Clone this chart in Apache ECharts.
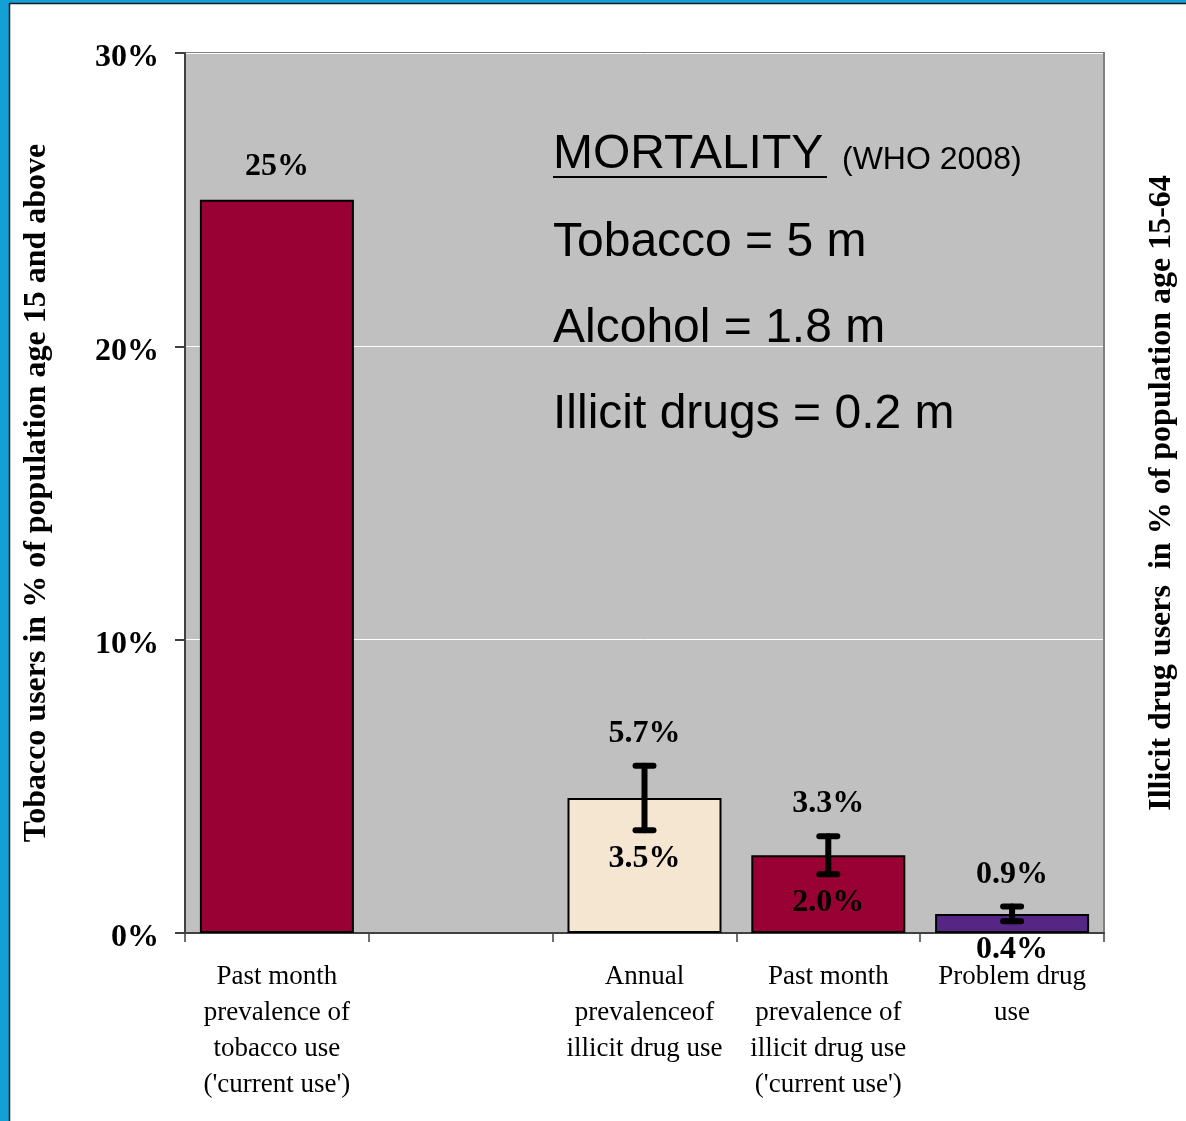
<!DOCTYPE html>
<html>
<head>
<meta charset="utf-8">
<script src="https://cdn.jsdelivr.net/npm/echarts@6/dist/echarts.min.js"></script>
<style>
  html, body { margin: 0; padding: 0; background: #ffffff; }
  #chart { width: 1186px; height: 1121px; }
</style>
</head>
<body>
<div id="chart"></div>
<script>
// Categories along the bottom axis (second slot is an empty spacer)
const categories = [
  "Past month\nprevalence of\ntobacco use\n('current use')",
  "",
  "Annual\nprevalenceof\nillicit drug use",
  "Past month\nprevalence of\nillicit drug use\n('current use')",
  "Problem drug\nuse"
];

// Tobacco users, % of population aged 15+
const tobaccoValues = [25, null, null, null, null];

// Illicit drug users, % of population aged 15-64 (bar = centre of the range)
const drugValues = [null, null, 4.6, 2.65, 0.65];
const drugLow = [null, null, 3.5, 2.0, 0.4];
const drugHigh = [null, null, 5.7, 3.3, 0.9];

// Left axis ticks (percent)
const yTicks = [0, 10, 20, 30];

// Mortality note
const mortalityTitle = 'MORTALITY';
const mortalitySource = '(WHO 2008)';
const mortalityLines = ['Tobacco = 5 m', 'Alcohol = 1.8 m', 'Illicit drugs = 0.2 m'];

const drugColors = ['#f5e6d2', '#990033', '#552683'];

const serif = '"Liberation Serif", "Times New Roman", serif';
const sans = '"Liberation Sans", Arial, sans-serif';

const chart = echarts.init(document.getElementById('chart'), null, { renderer: 'canvas' });

const drugBarData = drugValues.map((v, i) => {
  if (v == null) return null;
  const k = drugValues.slice(0, i + 1).filter(x => x != null).length - 1;
  return { value: v, itemStyle: { color: drugColors[k] } };
});

const rangeData = drugLow.map((lo, i) => lo == null ? null : [i, lo, drugHigh[i]]).filter(Boolean);

const mortalityGraphics = [
  {
    type: 'text', left: 553, top: 131, z: 10,
    style: { text: mortalityTitle, font: '48px ' + sans, fill: '#000' }
  },
  {
    type: 'line', z: 10,
    shape: { x1: 553, y1: 177, x2: 827, y2: 177 },
    style: { stroke: '#000', lineWidth: 2 }
  },
  {
    type: 'text', left: 842, top: 144, z: 10,
    style: { text: mortalitySource, font: '32px ' + sans, fill: '#000' }
  }
].concat(mortalityLines.map((t, i) => ({
  type: 'text', left: 553, top: 219 + i * 86, z: 10,
  style: { text: t, font: '48px ' + sans, fill: '#000' }
})));

const option = {
  backgroundColor: '#ffffff',
  animation: false,
  grid: {
    left: 185, right: 82, top: 53, bottom: 188,
    show: true, backgroundColor: '#c0c0c0',
    borderColor: '#808080', borderWidth: 2
  },
  xAxis: {
    type: 'category',
    data: categories,
    boundaryGap: true,
    axisLine: { lineStyle: { color: '#404040', width: 2 } },
    axisTick: { show: true, interval: 0, length: 9, lineStyle: { color: '#404040', width: 1.5 } },
    axisLabel: {
      interval: 0, margin: 26,
      fontFamily: serif, fontSize: 27, lineHeight: 36, color: '#000', align: 'center'
    },
    splitLine: { show: false }
  },
  yAxis: [
    {
      type: 'value', min: 0, max: 30, interval: 10,
      position: 'left',
      name: 'Tobacco users in % of population age 15 and above',
      nameLocation: 'middle', nameGap: 132, nameRotate: 90,
      nameTextStyle: { fontFamily: serif, fontWeight: 'bold', fontSize: 32, color: '#000' },
      axisLine: { show: true, lineStyle: { color: '#404040', width: 2 } },
      axisTick: { show: true, length: 10, inside: false, lineStyle: { color: '#404040', width: 2 } },
      axisLabel: {
        margin: 26, color: '#000',
        formatter: v => yTicks.includes(v) ? '{t|' + v + '%}' : '',
        rich: {
          t: {
            fontFamily: serif, fontWeight: 'bold', fontSize: 32, color: '#000',
            padding: [10, 0, 0, 0]
          }
        }
      },
      splitLine: { show: true, lineStyle: { color: '#ffffff', width: 1 } }
    },
    {
      type: 'value', min: 0, max: 30, interval: 10,
      position: 'right',
      name: 'Illicit drug users  in % of population age 15-64',
      nameLocation: 'middle', nameGap: 42, nameRotate: 90,
      nameTextStyle: { fontFamily: serif, fontWeight: 'bold', fontSize: 32, color: '#000' },
      axisLine: { show: true, lineStyle: { color: '#808080', width: 2 } },
      axisTick: { show: false },
      axisLabel: { show: false },
      splitLine: { show: false }
    }
  ],
  series: [
    {
      name: 'Tobacco',
      type: 'bar',
      yAxisIndex: 0,
      data: tobaccoValues,
      barWidth: 154,
      barGap: '-100%',
      itemStyle: { color: '#990033', borderColor: '#000', borderWidth: 2 },
      label: {
        show: true, position: 'top', distance: 17,
        fontFamily: serif, fontWeight: 'bold', fontSize: 32, color: '#000',
        formatter: p => p.value + '%'
      }
    },
    {
      name: 'Illicit drugs',
      type: 'bar',
      yAxisIndex: 1,
      data: drugBarData,
      barWidth: 154,
      barGap: '-100%',
      itemStyle: { borderColor: '#000', borderWidth: 2 }
    },
    {
      name: 'Range',
      type: 'custom',
      yAxisIndex: 1,
      z: 5,
      data: rangeData,
      renderItem: function (params, api) {
        const x = api.coord([api.value(0), 0])[0];
        const yLo = api.coord([api.value(0), api.value(1)])[1];
        const yHi = api.coord([api.value(0), api.value(2)])[1];
        const cap = 9;
        const stroke = { stroke: '#000', lineWidth: 6, lineCap: 'round' };
        const fmt = v => v.toFixed(1) + '%';
        const txt = (t, y) => ({
          type: 'text', z2: 20,
          style: {
            text: t, x: x, y: y, align: 'center', verticalAlign: 'middle',
            font: 'bold 32px ' + serif, fill: '#000'
          }
        });
        return {
          type: 'group',
          children: [
            { type: 'line', shape: { x1: x, y1: yLo, x2: x, y2: yHi }, style: stroke },
            { type: 'line', shape: { x1: x - cap, y1: yHi, x2: x + cap, y2: yHi }, style: stroke },
            { type: 'line', shape: { x1: x - cap, y1: yLo, x2: x + cap, y2: yLo }, style: stroke },
            txt(fmt(api.value(2)), yHi - 32),
            txt(fmt(api.value(1)), yLo + 28)
          ]
        };
      }
    }
  ],
  graphic: [
    { type: 'rect', shape: { x: 0, y: 0, width: 9, height: 1121 }, style: { fill: '#12a0d6' }, z: 100 },
    { type: 'rect', shape: { x: 0, y: 0, width: 1186, height: 3 }, style: { fill: '#12a0d6' }, z: 100 },
    { type: 'line', shape: { x1: 9.5, y1: 3, x2: 9.5, y2: 1121 }, style: { stroke: '#1a1a1a', lineWidth: 1.5 }, z: 100 },
    { type: 'line', shape: { x1: 9, y1: 3.5, x2: 1186, y2: 3.5 }, style: { stroke: '#1a1a1a', lineWidth: 1.5 }, z: 100 }
  ].concat(mortalityGraphics)
};

chart.setOption(option);
</script>
</body>
</html>
